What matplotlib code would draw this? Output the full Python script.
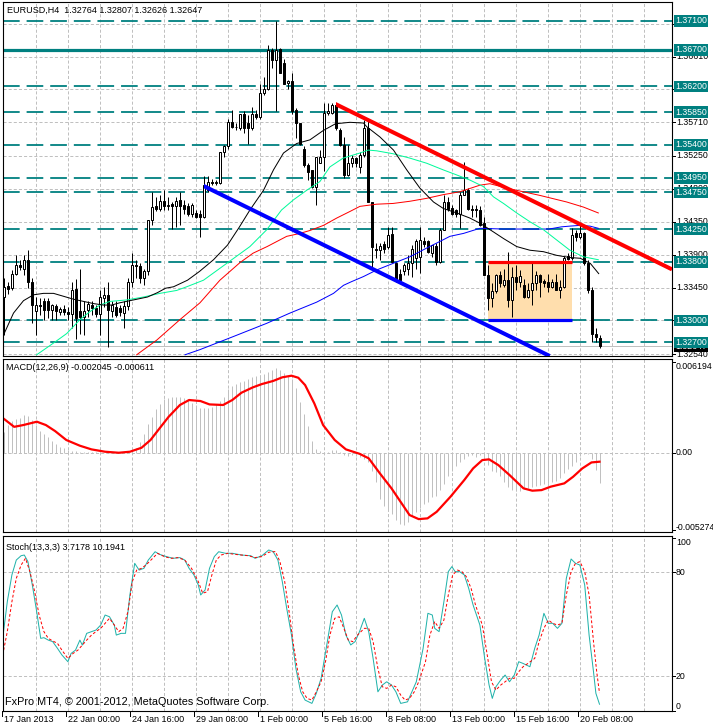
import numpy as np
import matplotlib
matplotlib.use("Agg")
import matplotlib.pyplot as plt
from matplotlib.patches import Rectangle
from matplotlib.transforms import blended_transform_factory as blend

plt.rcParams['font.family'] = ['Liberation Sans', 'DejaVu Sans']
plt.rcParams['lines.scale_dashes'] = False

# ------------------------------------------------------------------ data
title_text = "EURUSD,H4  1.32764 1.32807 1.32626 1.32647"
macd_label = "MACD(12,26,9) -0.002045 -0.000611"
stoch_label = "Stoch(13,3,3) 3.7178 10.1941"
copyright_text = "FxPro MT4, \u00a9 2001-2012, MetaQuotes Software Corp."

opens = [1.3332, 1.3347, 1.3344, 1.3364, 1.3376, 1.3371, 1.3383, 1.3353, 1.3313, 1.3321,
         1.3327, 1.3327, 1.3314, 1.3320, 1.3312, 1.3316, 1.3312, 1.3309, 1.3343, 1.3313,
         1.3304, 1.3314, 1.3321, 1.3317, 1.3309, 1.3330, 1.3335, 1.3313, 1.3319, 1.3317,
         1.3310, 1.3320, 1.3352, 1.3376, 1.3374, 1.3358, 1.3367, 1.3437, 1.3456, 1.3452,
         1.3464, 1.3456, 1.3459, 1.3456, 1.3465, 1.3458, 1.3456, 1.3446, 1.3447, 1.3446,
         1.3441, 1.3478, 1.3490, 1.3488, 1.3488, 1.3530, 1.3538, 1.3572, 1.3565, 1.3563,
         1.3582, 1.3570, 1.3563, 1.3583, 1.3578, 1.3611, 1.3617, 1.3670, 1.3656, 1.3671,
         1.3652, 1.3625, 1.3627, 1.3588, 1.3570, 1.3535, 1.3513, 1.3506, 1.3483, 1.3516,
         1.3524, 1.3584, 1.3584, 1.3595, 1.3561, 1.3540, 1.3499, 1.3515, 1.3522, 1.3510,
         1.3526, 1.3563, 1.3462, 1.3398, 1.3396, 1.3404, 1.3400, 1.3418, 1.3378, 1.3364,
         1.3368, 1.3371, 1.3378, 1.3385, 1.3387, 1.3409, 1.3408, 1.3392, 1.3402, 1.3380,
         1.3424, 1.3462, 1.3454, 1.3451, 1.3446, 1.3472, 1.3479, 1.3453, 1.3452, 1.3451,
         1.3433, 1.3362, 1.3330, 1.3340, 1.3362, 1.3349, 1.3355, 1.3328, 1.3360, 1.3353,
         1.3348, 1.3332, 1.3342, 1.3351, 1.3362, 1.3354, 1.3352, 1.3346, 1.3352, 1.3341,
         1.3346, 1.3388, 1.3385, 1.3419, 1.3414, 1.3419, 1.3378, 1.3342, 1.3282, 1.32764]
highs = [1.3358, 1.3352, 1.3369, 1.3389, 1.3383, 1.3389, 1.3397, 1.3358, 1.3332, 1.3330,
         1.3330, 1.3330, 1.3323, 1.3323, 1.3319, 1.3321, 1.3319, 1.3353, 1.3356, 1.3371,
         1.3326, 1.3326, 1.3326, 1.3321, 1.3342, 1.3346, 1.3353, 1.3326, 1.3326, 1.3321,
         1.3326, 1.3358, 1.3392, 1.3383, 1.3378, 1.3371, 1.3438, 1.3476, 1.3469, 1.3471,
         1.3478, 1.3469, 1.3462, 1.3469, 1.3476, 1.3465, 1.3460, 1.3460, 1.3451, 1.3451,
         1.3497, 1.3497, 1.3494, 1.3492, 1.3531, 1.3540, 1.3576, 1.3588, 1.3570, 1.3583,
         1.3586, 1.3581, 1.3592, 1.3588, 1.3624, 1.3633, 1.3677, 1.3672, 1.3710, 1.3672,
         1.3658, 1.3629, 1.3638, 1.3590, 1.3570, 1.3538, 1.3515, 1.3506, 1.3524, 1.3533,
         1.3597, 1.3597, 1.3597, 1.3597, 1.3563, 1.3551, 1.3540, 1.3526, 1.3524, 1.3530,
         1.3574, 1.3576, 1.3462, 1.3406, 1.3406, 1.3408, 1.3428, 1.3428, 1.3380, 1.3371,
         1.3378, 1.3389, 1.3403, 1.3412, 1.3428, 1.3414, 1.3410, 1.3403, 1.3406, 1.3426,
         1.3471, 1.3469, 1.3458, 1.3453, 1.3476, 1.3517, 1.3481, 1.3458, 1.3458, 1.3456,
         1.3442, 1.3376, 1.3351, 1.3364, 1.3367, 1.3371, 1.3393, 1.3373, 1.3376, 1.3369,
         1.3357, 1.3351, 1.3378, 1.3367, 1.3364, 1.3357, 1.3364, 1.3357, 1.3364, 1.3355,
         1.3388, 1.3392, 1.3426, 1.3424, 1.3431, 1.3421, 1.3383, 1.3346, 1.3289, 1.32807]
lows = [1.3280, 1.3336, 1.3342, 1.3362, 1.3369, 1.3362, 1.3344, 1.3296, 1.3280, 1.3307,
        1.3301, 1.3303, 1.3301, 1.3301, 1.3307, 1.3307, 1.3301, 1.3289, 1.3275, 1.3282,
        1.3280, 1.3305, 1.3307, 1.3305, 1.3280, 1.3319, 1.3264, 1.3305, 1.3305, 1.3306,
        1.3289, 1.3314, 1.3346, 1.3358, 1.3351, 1.3348, 1.3362, 1.3430, 1.3449, 1.3449,
        1.3451, 1.3451, 1.3425, 1.3428, 1.3430, 1.3446, 1.3443, 1.3441, 1.3440, 1.3414,
        1.3440, 1.3476, 1.3485, 1.3485, 1.3486, 1.3524, 1.3535, 1.3563, 1.3560, 1.3561,
        1.3557, 1.3542, 1.3561, 1.3576, 1.3576, 1.3608, 1.3615, 1.3645, 1.3586, 1.3638,
        1.3623, 1.3617, 1.3583, 1.3549, 1.3540, 1.3510, 1.3492, 1.3481, 1.3458, 1.3515,
        1.3505, 1.3581, 1.3583, 1.3561, 1.3538, 1.3495, 1.3497, 1.3510, 1.3510, 1.3501,
        1.3524, 1.3462, 1.3369, 1.3385, 1.3383, 1.3392, 1.3398, 1.3378, 1.3353, 1.3353,
        1.3362, 1.3362, 1.3360, 1.3371, 1.3365, 1.3401, 1.3392, 1.3387, 1.3376, 1.3378,
        1.3424, 1.3450, 1.3444, 1.3442, 1.3427, 1.3471, 1.3451, 1.3442, 1.3442, 1.3429,
        1.3362, 1.3314, 1.3319, 1.3337, 1.3346, 1.3346, 1.3319, 1.3305, 1.3342, 1.3346,
        1.3330, 1.3330, 1.3321, 1.3342, 1.3332, 1.3346, 1.3339, 1.3344, 1.3342, 1.3330,
        1.3344, 1.3383, 1.3382, 1.3408, 1.3412, 1.3376, 1.3337, 1.3271, 1.3271, 1.32626]
closes = [1.3346, 1.3343, 1.3364, 1.3376, 1.3373, 1.3383, 1.3353, 1.3321, 1.3321, 1.3320,
          1.3314, 1.3314, 1.3321, 1.3313, 1.3316, 1.3312, 1.3309, 1.3342, 1.3303, 1.3304,
          1.3313, 1.3323, 1.3317, 1.3309, 1.3332, 1.3335, 1.3314, 1.3321, 1.3307, 1.3312,
          1.3320, 1.3352, 1.3376, 1.3374, 1.3358, 1.3368, 1.3437, 1.3455, 1.3452, 1.3464,
          1.3456, 1.3458, 1.3456, 1.3464, 1.3457, 1.3453, 1.3446, 1.3458, 1.3442, 1.3441,
          1.3485, 1.3490, 1.3488, 1.3489, 1.3530, 1.3539, 1.3572, 1.3565, 1.3564, 1.3582,
          1.3563, 1.3563, 1.3583, 1.3578, 1.3611, 1.3617, 1.3670, 1.3656, 1.3670, 1.3638,
          1.3624, 1.3627, 1.3586, 1.3570, 1.3542, 1.3513, 1.3503, 1.3483, 1.3524, 1.3524,
          1.3584, 1.3586, 1.3595, 1.3563, 1.3540, 1.3499, 1.3515, 1.3522, 1.3515, 1.3526,
          1.3563, 1.3462, 1.3401, 1.3396, 1.3402, 1.3398, 1.3417, 1.3380, 1.3355, 1.3355,
          1.3376, 1.3378, 1.3398, 1.3408, 1.3410, 1.3405, 1.3394, 1.3403, 1.3380, 1.3424,
          1.3462, 1.3453, 1.3446, 1.3446, 1.3472, 1.3479, 1.3453, 1.3451, 1.3451, 1.3431,
          1.3362, 1.3330, 1.3340, 1.3362, 1.3351, 1.3355, 1.3328, 1.3360, 1.3353, 1.3361,
          1.3332, 1.3342, 1.3351, 1.3362, 1.3353, 1.3351, 1.3346, 1.3352, 1.3342, 1.3346,
          1.3386, 1.3384, 1.3417, 1.3414, 1.3420, 1.3378, 1.3342, 1.3281, 1.3277, 1.32647]

# moving averages (bar index, price)
ma_black_bar = [0, 2.5, 5, 7.5, 10, 12.5, 15, 17.5, 20, 22.5, 25, 27, 29, 32.5, 36, 38.5, 40.5,
                42.5, 46, 49, 52.5, 56, 59, 61.6, 65, 67.5, 70, 73.3, 76.6, 80, 83, 86.6, 90,
                90.8, 94.1, 97.5, 100.8, 104.1, 107.5, 110, 113.3, 116.6, 119.1, 122.5,
                125, 128.3, 131.6, 135, 138.3, 141.6, 144.2, 146.7, 148.8]
ma_black = [1.3280, 1.3310, 1.3327, 1.3335, 1.3337, 1.3337, 1.3333, 1.3329, 1.3326, 1.3323,
            1.3321, 1.3321, 1.3324, 1.3328, 1.3332, 1.3338, 1.3344, 1.3346, 1.3355, 1.3367,
            1.3383, 1.3403, 1.3428, 1.3451, 1.3478, 1.3506, 1.3529, 1.3542, 1.3547, 1.3560,
            1.3569, 1.3571, 1.3570, 1.3565, 1.3551, 1.3533, 1.3506, 1.3481, 1.3462,
            1.3453, 1.3447, 1.3440, 1.3433, 1.3421, 1.3412, 1.3401, 1.3396, 1.3394, 1.3389,
            1.3386, 1.3385, 1.3378, 1.3364]
ma_green_bar = [8.3, 12.5, 15.8, 19.1, 21.6, 24.1, 26.6, 30.8, 35, 39.1, 43.3, 45.8, 50, 55.8,
                61.6, 65.8, 69.5, 72.5, 75.8, 79.1, 81.6, 84.9, 89.1, 91.2, 93.3, 97.4, 101.6,
                105.8, 109.9, 113.3, 116.6, 120, 122.5, 125, 128.3, 131.6, 135, 138.3, 141.6,
                145, 148.7]
ma_green = [1.3253, 1.3269, 1.3282, 1.3301, 1.3312, 1.3321, 1.3326, 1.3328, 1.3332, 1.3337,
            1.3341, 1.3346, 1.3355, 1.3378, 1.3401, 1.3424, 1.3451, 1.3465, 1.3478, 1.3490,
            1.3510, 1.3522, 1.3529, 1.3533, 1.3532, 1.3528, 1.3522, 1.3515, 1.3506, 1.3499,
            1.3492, 1.3483, 1.3469, 1.3460, 1.3447, 1.3435, 1.3424, 1.3410, 1.3396, 1.3387,
            1.3383]
ma_red_bar = [33.3, 38.3, 44.1, 49.1, 54.1, 59.1, 62.4, 65.9, 70.8, 74.1, 76.6, 80, 83.3, 86.6,
              89.1, 93.3, 97.4, 101.6, 105.8, 109.9, 114.1, 119.1, 121.6, 125.8, 129.9, 134.1,
              140.8, 145, 148.7]
ma_red = [1.3253, 1.3273, 1.3301, 1.3324, 1.3355, 1.3379, 1.3392, 1.3401, 1.3415, 1.3419,
          1.3423, 1.3430, 1.3440, 1.3449, 1.3456, 1.3459, 1.3460, 1.3463, 1.3467, 1.3472,
          1.3476, 1.3485, 1.3487, 1.3481, 1.3476, 1.3471, 1.3462, 1.3455, 1.3447]
ma_blue_bar = [45.4, 49.1, 57.5, 65.8, 71.6, 78.3, 82.5, 85, 87, 90, 93.3, 97.4, 101.6, 105.8,
               109.1, 111.6, 115, 119.1, 124.9, 130, 136.4, 139.5, 141.6, 144.1, 146.6, 148.7]
ma_blue = [1.3253, 1.3260, 1.3278, 1.3296, 1.3310, 1.3325, 1.3337, 1.3348, 1.3353, 1.3360,
           1.3369, 1.3378, 1.3387, 1.3399, 1.3408, 1.3415, 1.3419, 1.3426, 1.3425, 1.3425,
           1.3425, 1.3428, 1.3429, 1.3430, 1.3429, 1.3426]

# horizontal levels, grid and objects
level_prices = [1.3710, 1.3620, 1.3585, 1.3540, 1.3495, 1.3475, 1.3425, 1.3380, 1.3300, 1.3270]
level_solid = 1.3670
grid_prices = [1.37060, 1.36610, 1.36160, 1.35710, 1.35250, 1.34800, 1.34350, 1.33900,
               1.33450, 1.33000, 1.32540]
current_price = 1.32647
channel_blue_bar = [50, 95]
channel_blue_price = [1.3484, 1.3363]
channel_red_bar = [83, 128]
channel_red_price = [1.3596, 1.3475]
box_bars = [121, 142]
box_prices = [1.3300, 1.3380]

date_bars = [0, 16, 32, 48, 64, 80, 96, 112, 128, 144]
date_labels = ["17 Jan 2013", "22 Jan 00:00", "24 Jan 16:00", "29 Jan 08:00", "1 Feb 00:00",
               "5 Feb 16:00", "8 Feb 08:00", "13 Feb 00:00", "15 Feb 16:00", "20 Feb 08:00"]
grid_bars = list(range(8, 168, 8))

macd_hist = [0.00143, 0.00189, 0.00219, 0.00228, 0.00237, 0.00255, 0.00248, 0.00224, 0.00189, 0.00150,
             0.00128, 0.00110, 0.00082, 0.00061, 0.00041, 0.00032, 0.00020, 0.00014, 0.00009, 0.00007,
             0.00005, 0.00004, 0.00003, 0.00002, 0.00002, 0.00001, 0.00001, 0.00002, 0.00003, 0.00004,
             0.00008, 0.00014, 0.00018, 0.00034, 0.00071, 0.00128, 0.00196, 0.00246, 0.00296, 0.00330,
             0.00369, 0.00375, 0.00378, 0.00380, 0.00380, 0.00373, 0.00357, 0.00337, 0.00326, 0.00308,
             0.00303, 0.00303, 0.00312, 0.00333, 0.00353, 0.00378, 0.00435, 0.00455, 0.00469, 0.00483,
             0.00492, 0.00501, 0.00515, 0.00524, 0.00530, 0.00539, 0.00553, 0.00567, 0.00576, 0.00567,
             0.00547, 0.00526, 0.00501, 0.00440, 0.00349, 0.00264, 0.00184, 0.00080, 0.00023, 0.00009,
             0.00002, 0.00007, 0.00018, 0.00020, 0.00005, -0.00014, -0.00025, -0.00018, -0.00025, -0.00032,
             -0.00043, -0.00066, -0.00125, -0.00198, -0.00316, -0.00361, -0.00391, -0.00420, -0.00461, -0.00486,
             -0.00493, -0.00471, -0.00430, -0.00407, -0.00375, -0.00350, -0.00334, -0.00305, -0.00293, -0.00252,
             -0.00211, -0.00161, -0.00127, -0.00091, -0.00061, -0.00043, -0.00025, -0.00016, -0.00027, -0.00018,
             -0.00035, -0.00084, -0.00122, -0.00134, -0.00157, -0.00202, -0.00232, -0.00252, -0.00264, -0.00259,
             -0.00250, -0.00239, -0.00232, -0.00225, -0.00220, -0.00211, -0.00209, -0.00200, -0.00191, -0.00170,
             -0.00141, -0.00114, -0.00093, -0.00061, -0.00020, -0.00007, -0.00011, -0.00043, -0.00118, -0.002045]
macd_sig_bar = [0.16, 2.66, 4.93, 8.34, 10.6, 12.9, 15.7, 19.1, 22, 25.4, 28.8, 31.6, 34.5, 36.75,
                39, 41.3, 44.1, 46.4, 49.25, 51.5, 54.9, 57.2, 59.5, 62.3, 64.6, 67.4, 69.7, 72,
                73.7, 75.4, 77.7, 79.9, 82.8, 85.6, 89, 91.3, 94.1, 97, 99.25, 101.5, 103.8, 106,
                108.3, 111.75, 115.2, 117.4, 119.7, 121.4, 123.7, 126.5, 130, 132.2, 134.5, 136.75,
                140.2, 142.4, 144.7, 147, 149]
macd_sig = [0.00230, 0.00177, 0.00189, 0.00212, 0.00189, 0.00148, 0.00087, 0.00048, 0.00023, 0.00007,
            0.00000, 0.00007, 0.00034, 0.00087, 0.00166, 0.00246, 0.00326, 0.00360, 0.00353, 0.00330,
            0.00326, 0.00360, 0.00410, 0.00446, 0.00469, 0.00490, 0.00515, 0.00526, 0.00512, 0.00462,
            0.00337, 0.00189, 0.00087, 0.00023, -0.00007, -0.00038, -0.00141, -0.00243, -0.00334, -0.00425,
            -0.00453, -0.00448, -0.00403, -0.00300, -0.00186, -0.00107, -0.00050, -0.00045, -0.00084, -0.00152,
            -0.00243, -0.00259, -0.00255, -0.00232, -0.00209, -0.00164, -0.00107, -0.00066, -0.000611]
macd_ticks = [0.006194, 0.0, -0.005274]
macd_tick_labels = ["0.006194", "0.00", "-0.005274"]

stoch_main_bar = [-0.2, 0.95, 2.1, 3.2, 4.4, 5.2, 6.1, 7.2, 8.3, 9.3, 10.1, 11.2, 12.3, 13.5, 14.6,
                  16.1, 16.9, 18, 19.1, 19.7, 20.8, 22, 23.1, 24.3, 25.4, 26.5, 27.7, 28.2, 29.4,
                  30.5, 31.6, 32.8, 33.9, 35.1, 36.2, 37.9, 39, 40.7, 42.4, 44.1, 45.3, 46.4, 47.6,
                  48.7, 49.3, 50.4, 51.5, 52.7, 53.8, 55.5, 57.2, 59.5, 61.8, 62.9, 64.6, 66.3,
                  67.4, 68.6, 69.7, 70.8, 72, 73.1, 74.3, 75.4, 77.1, 78.2, 79.4, 81.1, 82.2, 83.4,
                  84.5, 85.6, 86.8, 87.9, 89, 90.2, 91.3, 92.4, 93.6, 94.7, 95.8, 97, 98.1, 99.3,
                  101, 102.1, 103.2, 104.9, 106.1, 107.2, 107.8, 108.9, 110.1, 111.2, 112.1, 112.9,
                  114, 115.2, 116.3, 117.4, 119.1, 120.3, 121.4, 122.2, 123.1, 124.3, 125.4, 126.5,
                  127.7, 128.8, 129.9, 131.6, 132.8, 133.9, 135.1, 136.2, 137.3, 138.5, 139.6,
                  140.7, 141.9, 143, 144.1, 145.3, 146.4, 147.5, 148.1, 149]
stoch_main = [41.8, 63.0, 78.5, 87.1, 89.6, 90.0, 86.2, 72.7, 57.2, 41.8, 42.2, 40.8, 39.9, 36.0,
              32.2, 28.3, 33.1, 35.0, 40.8, 37.9, 44.7, 45.7, 46.6, 49.5, 55.3, 54.3, 49.5, 43.7,
              44.7, 44.7, 66.9, 85.2, 81.3, 82.3, 87.1, 91.9, 90.4, 89.1, 88.1, 88.5, 87.1, 82.3,
              78.5, 72.7, 66.9, 69.8, 82.3, 89.1, 91.9, 91.0, 91.0, 90.0, 89.6, 88.1, 89.6, 92.9,
              92.0, 87.1, 74.6, 59.2, 43.7, 24.4, 10.9, 6.1, 4.2, 10.0, 18.7, 41.8, 57.2, 61.1,
              55.3, 43.7, 38.0, 39.9, 45.7, 53.4, 45.7, 30.2, 10.9, 14.8, 16.7, 14.8, 10.9, 4.2,
              5.1, 10.9, 16.7, 36.0, 56.3, 55.3, 47.6, 45.7, 63.0, 80.4, 83.3, 80.4, 80.4, 78.5,
              70.7, 61.1, 49.5, 30.2, 14.8, 7.1, 13.8, 17.7, 20.6, 16.7, 20.6, 28.3, 27.3, 25.4,
              36.0, 43.7, 56.3, 50.5, 50.5, 47.6, 50.5, 76.5, 87.7, 85.2, 84.2, 72.7, 43.7, 22.5,
              10.0, 3.7178]
stoch_sig_bar = [-0.2, 0.95, 2.1, 3.2, 4.4, 5.5, 6.6, 7.8, 8.9, 10.1, 11.2, 12.3, 13.5, 14.6, 16.1,
                 17.4, 18.6, 19.7, 20.8, 22, 23.1, 24.3, 25.4, 26.5, 27.7, 28.8, 29.9, 31.1, 32.2,
                 33.3, 34.5, 35.6, 37.3, 38.5, 40.2, 41.9, 43.6, 45.3, 47, 48.7, 49.8, 51, 52.1,
                 53.2, 54.4, 56.1, 57.8, 59.5, 61.2, 62.9, 64.6, 66.3, 68, 69.1, 70.3, 71.4, 72.5,
                 73.7, 74.8, 75.9, 77.1, 78.2, 79.4, 80.5, 81.6, 82.8, 83.9, 85.1, 86.2, 87.3, 88.5,
                 90.2, 91.3, 92.4, 93.6, 94.7, 95.8, 97, 98.1, 99.3, 100.4, 101.5, 102.7, 103.8,
                 105.5, 106.6, 107.8, 108.9, 110.1, 111.2, 112.3, 113.5, 114.6, 115.7, 116.9, 118,
                 119.7, 120.8, 122, 123.1, 124.3, 125.4, 126.5, 127.7, 128.8, 129.9, 131.1, 132.8,
                 133.9, 135.1, 136.2, 137.3, 138.5, 139.6, 140.7, 141.9, 143, 144.1, 145.3, 146.4,
                 147.5, 148.3, 149]
stoch_sig = [32.2, 45.7, 63.0, 76.5, 84.2, 88.1, 80.4, 68.8, 55.3, 45.7, 41.8, 40.3, 38.9, 35.0,
             30.2, 33.1, 35.0, 37.9, 40.8, 43.7, 45.7, 47.6, 50.5, 53.4, 49.5, 45.7, 47.6, 57.2,
             74.6, 81.3, 82.3, 84.2, 88.1, 91.0, 89.1, 88.1, 88.5, 87.1, 82.3, 74.6, 67.9, 68.8,
             78.5, 87.1, 90.0, 91.0, 90.4, 90.0, 89.6, 88.5, 89.1, 91.6, 92.0, 86.2, 74.6, 57.2,
             37.9, 20.6, 10.9, 7.1, 6.1, 10.9, 16.7, 28.3, 43.7, 53.4, 54.3, 47.6, 40.8, 39.9,
             43.7, 47.6, 47.6, 39.9, 24.4, 13.8, 12.9, 14.8, 13.8, 9.0, 6.1, 7.1, 10.9, 16.7,
             28.3, 43.7, 51.5, 47.6, 52.4, 66.9, 78.5, 81.3, 80.4, 77.5, 70.7, 61.1, 49.5, 34.1,
             16.7, 11.9, 14.8, 16.7, 18.7, 18.7, 22.5, 25.4, 27.3, 30.2, 39.9, 47.6, 52.4, 50.5,
             49.5, 50.5, 66.9, 80.4, 85.2, 86.2, 80.4, 66.9, 39.9, 22.5, 10.1941]
stoch_levels = [80, 20]
stoch_ticks = [100, 80, 20, 0]

assert len(opens) == len(highs) == len(lows) == len(closes) == len(macd_hist)
assert len(stoch_main_bar) == len(stoch_main) and len(stoch_sig_bar) == len(stoch_sig)
assert len(macd_sig_bar) == len(macd_sig)
assert len(ma_black_bar) == len(ma_black) and len(ma_green_bar) == len(ma_green)
assert len(ma_red_bar) == len(ma_red) and len(ma_blue_bar) == len(ma_blue)

# ------------------------------------------------------------------ style
W, H, DPI = 713, 728, 100
FS = 6.5
FS_AX = 6.3
TEAL = '#008080'
GRID = '#C0C0C0'
THIN = 0.72

fig = plt.figure(figsize=(W / DPI, H / DPI), dpi=DPI)
fig.patch.set_facecolor('white')


def px_rect(l, t, r, b):
    return [l / W, 1 - b / H, (r - l) / W, (b - t) / H]


ax = fig.add_axes(px_rect(3, 2, 672, 356))
axm = fig.add_axes(px_rect(3, 359, 672, 532))
axs = fig.add_axes(px_rect(3, 536, 672, 711))
XL = (-0.125, 167.125)
AXW = 669.0

for a in (ax, axm, axs):
    a.set_xlim(*XL)
    a.set_xticks([])
    a.set_yticks([])
    for s in a.spines.values():
        s.set_color('black')
        s.set_linewidth(0.8)
    for b in grid_bars:
        a.axvline(b, color=GRID, lw=THIN, dashes=(2.2, 1.5), zorder=0.5)


def right_label(a, y, s, va='center', **kw):
    a.plot([1, 1 + 3 / AXW], [y, y], transform=blend(a.transAxes, a.transData),
           clip_on=False, color='black', lw=THIN)
    a.text(1 + 4 / AXW, y, s, transform=blend(a.transAxes, a.transData), ha='left',
           va=va, fontsize=FS_AX, clip_on=False, **kw)


# ------------------------------------------------------------------ main price panel
ax.set_ylim(1.32513, 1.37356)
for p in grid_prices:
    ax.axhline(p, color=GRID, lw=THIN, dashes=(2.2, 1.5), zorder=0.5)
    right_label(ax, p, f"{p:.5f}")

ax.axhline(current_price, color=GRID, lw=THIN, zorder=0.8)
ax.text(1 + 3 / AXW, current_price, f"{current_price:.5f}",
        transform=blend(ax.transAxes, ax.transData), ha='left', va='center', fontsize=FS_AX,
        color='white', clip_on=False,
        bbox=dict(boxstyle='square,pad=0.15', fc='black', ec='none'))

ax.add_patch(Rectangle((box_bars[0], box_prices[0]), box_bars[1] - box_bars[0],
                       box_prices[1] - box_prices[0], fc='#FFDEAD', ec='none', zorder=1))

for p in level_prices:
    ax.axhline(p, color=TEAL, lw=1.3, dashes=(12.0, 5.0), zorder=2)
ax.axhline(level_solid, color=TEAL, lw=2.3, zorder=2)

for p in sorted(level_prices + [level_solid], reverse=True):
    ax.text(1 + 3 / AXW, p, f"{p:.5f}", transform=blend(ax.transAxes, ax.transData),
            ha='left', va='center', fontsize=FS_AX, color='white', clip_on=False,
            bbox=dict(boxstyle='square,pad=0.15', fc=TEAL, ec='none'))

o = np.array(opens); h = np.array(highs); l = np.array(lows); c = np.array(closes)
x = np.arange(len(o))
ax.vlines(x, l, h, color='black', lw=THIN, zorder=3)
up = c >= o
bottom = np.minimum(o, c)
height = np.maximum(np.abs(c - o), 0.00002)
ax.bar(x[up], height[up], width=0.5, bottom=bottom[up], color='white', edgecolor='black',
       linewidth=THIN, zorder=3.2)
ax.bar(x[~up], height[~up], width=0.5, bottom=bottom[~up], color='black', edgecolor='black',
       linewidth=THIN, zorder=3.2)

ax.plot(ma_blue_bar, ma_blue, color='#0000FF', lw=THIN, zorder=3.5)
ax.plot(ma_red_bar, ma_red, color='#FF0000', lw=THIN, zorder=3.5)
ax.plot(ma_green_bar, ma_green, color='#00FA9A', lw=THIN, zorder=3.5)
ax.plot(ma_black_bar, ma_black, color='black', lw=THIN, zorder=3.6)

ax.plot(box_bars, [box_prices[1]] * 2, color='#FF0000', lw=2.3, solid_capstyle='butt', zorder=4)
ax.plot(box_bars, [box_prices[0]] * 2, color='#0000FF', lw=2.3, solid_capstyle='butt', zorder=4)


def ray(bars, prices, color):
    ln = ax.axline((bars[0], prices[0]), (bars[1], prices[1]), color=color, lw=2.9,
                   solid_capstyle='butt', zorder=5)
    y0, y1 = ax.get_ylim()
    ln.set_clip_path(Rectangle((bars[0], y0), XL[1] - bars[0], y1 - y0,
                               transform=ax.transData))


ray(channel_blue_bar, channel_blue_price, '#0000FF')
ray(channel_red_bar, channel_red_price, '#FF0000')

fig.text(7 / W, 1 - 10 / H, title_text, ha='left', va='center', fontsize=FS)

# ------------------------------------------------------------------ MACD panel
axm.set_ylim(-0.00541, 0.00640)
axm.axhline(0, color=GRID, lw=THIN, dashes=(2.2, 1.5), zorder=0.5)
axm.vlines(x, 0, macd_hist, color=GRID, lw=THIN, zorder=1)
axm.plot(macd_sig_bar, macd_sig, color='#FF0000', lw=1.6, zorder=2)
for v, s, va in zip(macd_ticks, macd_tick_labels, ['top', 'center', 'baseline']):
    right_label(axm, v, s, va=va)
fig.text(6 / W, 1 - 368 / H, macd_label, ha='left', va='center', fontsize=FS)

# ------------------------------------------------------------------ Stochastic panel
axs.set_ylim(-0.2, 101)
for v in stoch_levels:
    axs.axhline(v, color=GRID, lw=THIN, dashes=(2.2, 1.5), zorder=0.5)
axs.plot(stoch_main_bar, stoch_main, color='#20B2AA', lw=THIN, zorder=2)
axs.plot(stoch_sig_bar, stoch_sig, color='#FF0000', lw=THIN, dashes=(2.0, 1.5), zorder=2.1)
for v, va in zip(stoch_ticks, ['top', 'center', 'center', 'bottom']):
    right_label(axs, v, str(v), va=va)
fig.text(6 / W, 1 - 547 / H, stoch_label, ha='left', va='center', fontsize=FS)
fig.text(5 / W, 1 - 702 / H, copyright_text, ha='left', va='center', fontsize=7.8)

# date axis
tdate = blend(axs.transData, fig.transFigure)
for b, s in zip(date_bars, date_labels):
    axs.plot([b - 0.5, b - 0.5], [1 - 711 / H, 1 - 716 / H], transform=tdate, color='black',
             lw=THIN, clip_on=False)
    axs.text(b, 1 - 720 / H, s, transform=tdate, ha='left', va='center', fontsize=FS,
             clip_on=False)

fig.savefig('out.png', dpi=DPI, facecolor='white')
